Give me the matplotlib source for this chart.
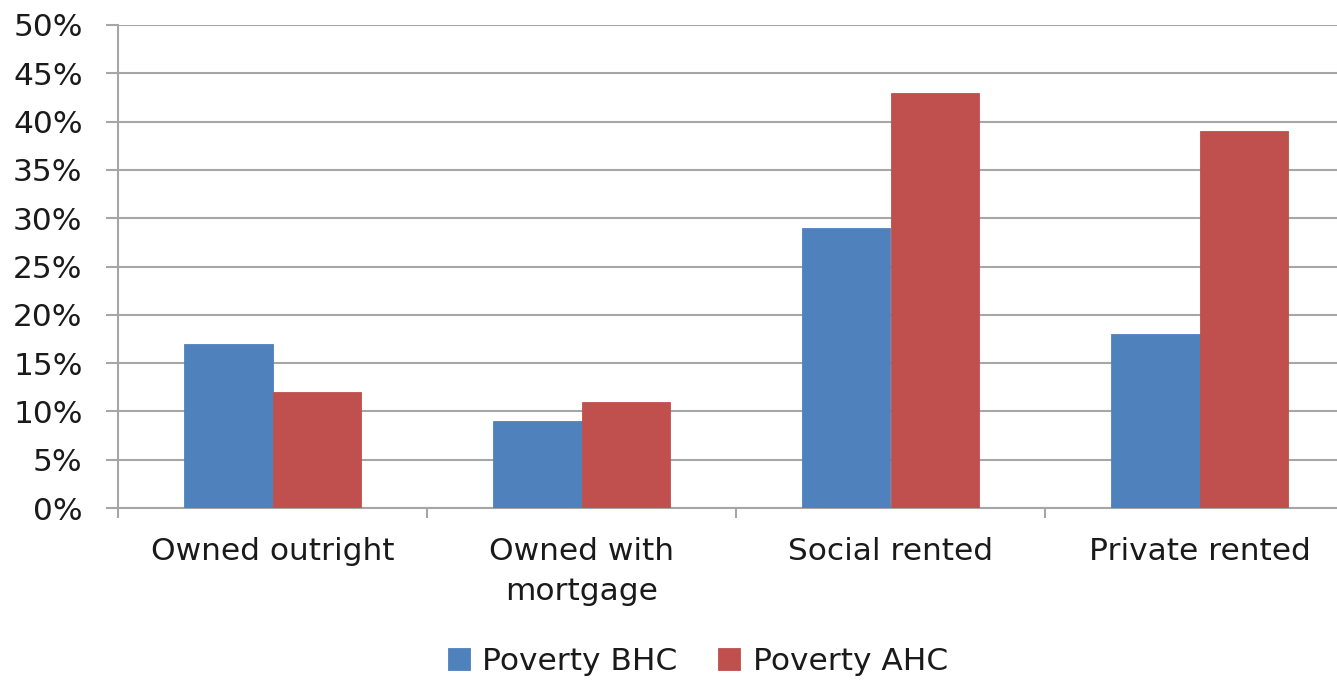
import matplotlib.pyplot as plt
import numpy as np
from matplotlib.ticker import FuncFormatter

plt.rcParams['font.family'] = ['DejaVu Sans']

categories = ['Owned outright', 'Owned with\nmortgage', 'Social rented', 'Private rented']
poverty_bhc = [17, 9, 29, 18]
poverty_ahc = [12, 11, 43, 39]

BLUE = '#4F81BD'
RED = '#C0504D'
GRID = '#a6a6a6'
TEXT = '#1a1a1a'

fig = plt.figure(figsize=(13.37, 6.8), dpi=100, facecolor='white')
# axes run a little past the right edge of the figure
ax = fig.add_axes([118 / 1337, 172 / 680, 1236 / 1337, 483 / 680])

x = np.arange(len(categories))
w = 0.285
ax.bar(x - w / 2, poverty_bhc, w, color=BLUE, edgecolor=BLUE, linewidth=0.6,
       label='Poverty BHC', zorder=3)
ax.bar(x + w / 2, poverty_ahc, w, color=RED, edgecolor=RED, linewidth=0.6,
       label='Poverty AHC', zorder=3)

ax.set_xlim(-0.5, len(categories) - 0.5)
ax.set_ylim(0, 50)
ax.set_yticks(np.arange(0, 51, 5))
ax.yaxis.set_major_formatter(FuncFormatter(lambda v, p: f'{v:.0f}%'))
ax.yaxis.grid(True, color=GRID, linewidth=1.5, zorder=0)

# category boundary ticks on the x axis, labels centred in between
ax.set_xticks(np.arange(-0.5, len(categories), 1.0))
ax.set_xticklabels([])
ax.set_xticks(x, minor=True)
ax.set_xticklabels(categories, minor=True, fontsize=22.5, color=TEXT, linespacing=1.45)
ax.tick_params(axis='x', which='major', length=7.5, width=1.5, color=GRID, direction='out')
ax.tick_params(axis='x', which='minor', length=0, pad=21)
ax.tick_params(axis='y', length=8.5, width=1.5, color=GRID, labelsize=22.5,
               labelcolor=TEXT, pad=17)

for side in ['top', 'right']:
    ax.spines[side].set_visible(False)
for side in ['left', 'bottom']:
    ax.spines[side].set_color(GRID)
    ax.spines[side].set_linewidth(1.5)

fig.legend(loc='center', bbox_to_anchor=(698 / 1337, 1 - 661 / 680), ncol=2,
           frameon=False, fontsize=22.5, handlelength=0.7, handleheight=0.7,
           columnspacing=1.3, handletextpad=0.4, labelcolor=TEXT)

plt.savefig('out.png', dpi=100, facecolor='white')
plt.close()
